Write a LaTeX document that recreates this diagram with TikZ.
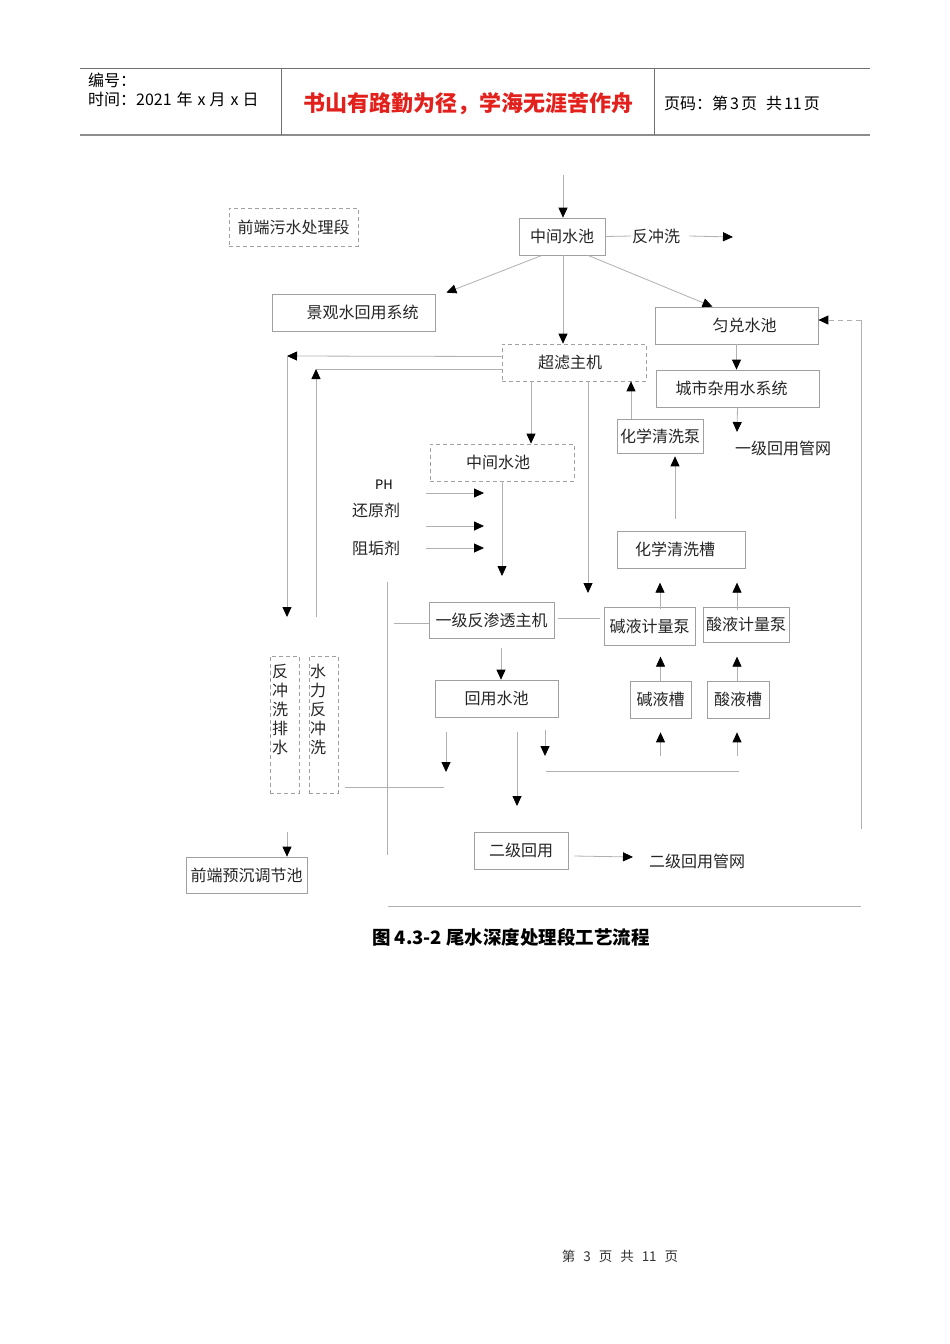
\documentclass[tikz,border=0pt]{standalone}
\usepackage{fontspec}
\setmainfont{Noto Sans CJK SC}
\usetikzlibrary{arrows.meta}
\definecolor{ln}{HTML}{B0B0B0}
\definecolor{bx}{HTML}{A0A0A0}
\definecolor{hdr}{HTML}{707070}
\definecolor{titlered}{HTML}{E3211C}
\newcommand\dfont{\fontsize{16}{19}\selectfont}
\tikzset{
  box/.style={draw=bx, line width=0.7pt, inner sep=0pt, font=\dfont, text=black!85},
  dbox/.style={box, dash pattern=on 4pt off 3pt},
  lbl/.style={inner sep=1pt, font=\dfont, text=black!85},
  ln/.style={draw=ln, line width=0.8pt},
  arr/.style={ln, -{Triangle[length=10pt,width=9pt,color=black]}},
}
\begin{document}
\begin{tikzpicture}[x=1pt,y=-1pt]
\useasboundingbox[fill=white] (0,0) rectangle (950,1344);

% ---------- header ----------
\draw[hdr, line width=0.8pt] (80,68) -- (870,68);
\draw[hdr!80, line width=2pt] (80,135) -- (870,135);
\draw[hdr, line width=0.8pt] (281,68) -- (281,135);
\draw[hdr, line width=0.8pt] (654,68) -- (654,135);
\node[anchor=west, inner sep=0pt, font=\fontsize{16}{18}\selectfont] (h1) at (88,80) {编号：};
\node[anchor=west, inner sep=0pt, font=\fontsize{16}{18}\selectfont] (h2) at (88,99) {时间：2021\hspace{5pt}年\hspace{5pt}x\hspace{4pt}月\hspace{5pt}x\hspace{4pt}日};
\node[inner sep=0pt, text=titlered, font=\fontsize{22}{26}\selectfont\bfseries] (h3) at (468,104) {书山有路勤为径，学海无涯苦作舟};
\node[anchor=west, inner sep=0pt, font=\fontsize{16}{18}\selectfont] (h4) at (664,103) {页码：第\hspace{2pt}3\hspace{2pt}页\hspace{9pt}共\hspace{2pt}11\hspace{2pt}页};

% ---------- boxes ----------
\node[dbox, minimum width=129, minimum height=38] (qd) at (293.5,227) {前端污水处理段};
\node[box, minimum width=86, minimum height=37] (zj1) at (562,236.5) {中间水池};
\node[lbl, anchor=west] (fcx) at (631,236) {反冲洗};
\node[box, minimum width=163, minimum height=37] (jg) at (353.5,312.5) {\hspace*{18pt}景观水回用系统};
\node[box, minimum width=163, minimum height=37] (yd) at (736.5,325.5) {\hspace*{16pt}匀兑水池};
\node[dbox, minimum width=144, minimum height=37] (cl) at (574,362.5) {超滤主机\hspace*{8pt}};
\node[box, minimum width=163, minimum height=37] (cs) at (737.5,388.5) {城市杂用水系统\hspace*{12pt}};
\node[box, minimum width=86, minimum height=34] (hxb) at (660,436) {化学清洗泵};
\node[lbl] (yj) at (783,448) {一级回用管网};
\node[dbox, minimum width=144, minimum height=37] (zj2) at (502,462.5) {中间水池\hspace*{8pt}};
\node[inner sep=0pt, font=\fontsize{13}{15}\selectfont] (ph) at (384,485) {PH};
\node[lbl] (hyj) at (376,510) {还原剂};
\node[lbl] (zgj) at (376,548) {阻垢剂};
\node[box, minimum width=128, minimum height=37] (hxc) at (681,549.5) {化学清洗槽\hspace*{12pt}};
\node[box, minimum width=125, minimum height=36] (ro) at (491.5,620) {一级反渗透主机};
\node[box, minimum width=91, minimum height=38] (jb) at (649.5,626) {碱液计量泵};
\node[box, minimum width=86, minimum height=35] (sb) at (746,624.5) {酸液计量泵};
\node[box, minimum width=123, minimum height=37] (hy) at (496.5,698.5) {回用水池};
\node[box, minimum width=61, minimum height=37] (jc) at (660.5,699.5) {碱液槽};
\node[box, minimum width=62, minimum height=37] (sc) at (738,699.5) {酸液槽};
\node[dbox, minimum width=29, minimum height=137] (fp) at (284.5,724.5) {};
\node[dbox, minimum width=29, minimum height=137] (sl) at (323.5,724.5) {};
\node[anchor=north west, inner sep=0pt, font=\dfont, align=left, text=black!85] (fpt) at (272,664) {反\\冲\\洗\\排\\水};
\node[anchor=north west, inner sep=0pt, font=\dfont, align=left, text=black!85] (slt) at (310,664) {水\\力\\反\\冲\\洗};
\node[box, minimum width=121, minimum height=36] (qy) at (246.5,875) {前端预沉调节池};
\node[box, minimum width=94, minimum height=37] (ej) at (521,850.5) {二级回用};
\node[lbl] (ejw) at (697,861) {二级回用管网};

% ---------- free ends ----------
\coordinate (top) at (563,175);
\coordinate (fcxend) at (733,237);
\coordinate (yjend) at (737,432);
\coordinate (c1) at (287,356);
\coordinate (c1b) at (287,617);
\coordinate (c2) at (316,369);
\coordinate (c2b) at (316,617);
\coordinate (cla) at (588,593);
\coordinate (zj2b) at (502,576);
\coordinate (roL) at (394,623);
\coordinate (v387t) at (387,582);
\coordinate (v387b) at (387,855);
\coordinate (hyL) at (446,772);
\coordinate (hyM) at (517,806);
\coordinate (hyR) at (545,756);
\coordinate (bus1) at (546,771);
\coordinate (bus2) at (739,771);
\coordinate (hline1) at (345,787);
\coordinate (hline2) at (444,787);
\coordinate (rtop) at (861,320);
\coordinate (rbot) at (861,829);
\coordinate (bl1) at (388,906);
\coordinate (bl2) at (861,906);

% ---------- connectors ----------
\draw[arr] (top) -- (zj1.north -| top);
\draw[ln] (zj1.east) -- (fcx.west);
\draw[arr] ([xshift=8pt]fcx.east) -- (fcxend);
\draw[arr] ([xshift=-20pt]zj1.south) -- ([shift={(11,-1)}]jg.north east);
\draw[arr] ([xshift=26pt]zj1.south) -- ([xshift=-24pt]yd.north);
\draw[arr] (zj1.south -| top) -- (cl.north -| top);
\draw[arr] (yd.south) -- (yd.south |- cs.north);
\draw[arr] (cs.south) -- (yjend);
\draw[arr] ([xshift=-29pt]hxb.north) -- ([xshift=-29pt]hxb.north |- cl.south);
\draw[arr] ([shift={(-6,-12)}]hxc.north) -- ([shift={(15,3)}]hxb.south);
% ultrafiltration backwash lines
\draw[arr] ([shift={(0,-6)}]cl.west) -- (c1);
\draw[arr] (c1) -- (c1b);
\draw[ln] ([shift={(0,6.5)}]cl.west) -- (c2);
\draw[arr] (c2b) -- (c2);
\draw[arr] ([xshift=-43pt]cl.south) -- ([xshift=-43pt]cl.south |- zj2.north);
\draw[arr] (cla |- cl.south) -- (cla);
% dosing
\draw[arr] (426,493) -- (484,493);
\draw[arr] (426,526) -- (484,526);
\draw[arr] (426,548) -- (484,548);
\draw[arr] (zj2.south) -- (zj2b);
% RO
\draw[ln] (roL) -- (roL -| ro.west);
\draw[ln] ([xshift=4pt]ro.east |- 0,618) -- ([xshift=-4pt]jb.west |- 0,618);
\draw[ln] (v387t) -- (v387b);
\draw[arr] ([shift={(10.5,2)}]jb.north) -- ([shift={(10.5,-24)}]jb.north);
\draw[arr] ([shift={(-9,3.5)}]sb.north) -- ([shift={(-9,-24)}]sb.north);
\draw[arr] (jc.north) -- ([shift={(0,-24)}]jc.north);
\draw[arr] ([shift={(-1,0)}]sc.north) -- ([shift={(-1,-24)}]sc.north);
\draw[arr] ([shift={(0,38)}]jc.south) -- ([shift={(0,14)}]jc.south);
\draw[arr] ([shift={(-1,38)}]sc.south) -- ([shift={(-1,14)}]sc.south);
\draw[ln] (bus1) -- (bus2);
\draw[arr] (hyR |- 0,730) -- (hyR);
\draw[arr] ([xshift=9.5pt]ro.south |- 0,648) -- ([xshift=9.5pt]ro.south |- hy.north);
\draw[arr] (hyL |- 0,732) -- (hyL);
\draw[arr] (hyM |- 0,732) -- (hyM);
\draw[ln] (hline1) -- (hline2);
\draw[arr] (qy.north -| c1) ++(0,-25) -- (qy.north -| c1);
\draw[arr] ([xshift=6pt]ej.east |- 0,856) -- (633,857);
% right return line
\draw[ln] (rbot) -- (rtop);
\draw[ln, dash pattern=on 5pt off 4pt, -{Triangle[length=10pt,width=9pt,color=black]}] (rtop) -- (yd.east |- rtop);
\draw[ln] (bl1) -- (bl2);

% ---------- caption & footer ----------
\node[inner sep=0pt, font=\fontsize{18.5}{21}\selectfont\bfseries] (cap) at (511,937) {图 4.3-2 尾水深度处理段工艺流程};
\node[inner sep=0pt, font=\fontsize{13.5}{15}\selectfont, text=black!80] (foot) at (620,1256) {第\hspace{8pt}3\hspace{8pt}页\hspace{8pt}共\hspace{8pt}11\hspace{8pt}页};
\end{tikzpicture}
\end{document}
